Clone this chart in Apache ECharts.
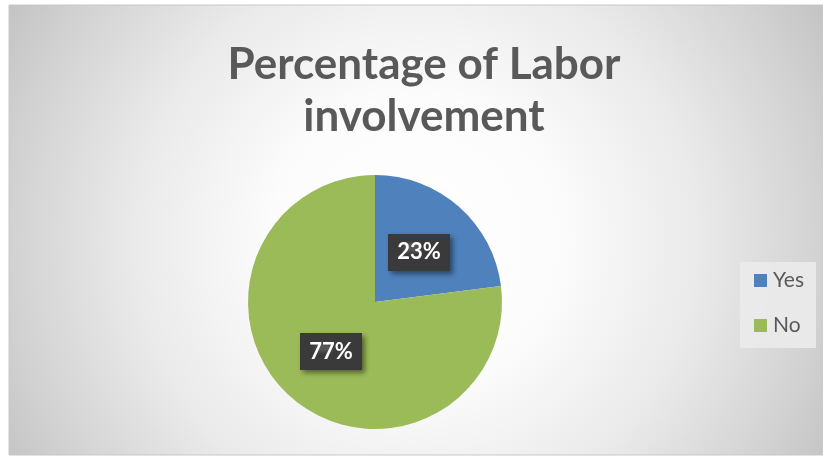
<!DOCTYPE html>
<html><head><meta charset="utf-8">
<script src="https://cdn.jsdelivr.net/npm/echarts@6/dist/echarts.min.js"></script>
<style>html,body{margin:0;padding:0;background:#fff}#c{width:823px;height:457px}</style>
</head><body><div id="c"></div>
<script>
const categories = ['Yes', 'No'];
const values = [23, 77];
const colors = ['#4f81bd', '#9bbb59'];
const titleText = 'Percentage of Labor\ninvolvement';

// dotted dark pattern for label boxes
const pat = document.createElement('canvas');
pat.width = 8; pat.height = 8;
const pc = pat.getContext('2d');
pc.fillStyle = '#3a3a3a'; pc.fillRect(0,0,8,8);
pc.fillStyle = '#555555'; pc.fillRect(2,2,2,2);

const chart = echarts.init(document.getElementById('c'), null, {renderer:'canvas'});
chart.setOption({
  animation: false,
  graphic: [{
    type: 'rect', z: -10, silent: true,
    shape: {x: 9, y: 5, width: 814, height: 450},
    style: {
      fill: new echarts.graphic.RadialGradient(416, 240, 470, [
        {offset: 0, color: '#ffffff'},
        {offset: 0.3, color: '#fcfcfc'},
        {offset: 0.6, color: '#eaeaea'},
        {offset: 0.86, color: '#d2d2d2'},
        {offset: 1, color: '#c3c3c3'}
      ], true),
      stroke: '#c8c8c8', lineWidth: 1
    }
  }],
  title: {
    text: titleText, left: 419, top: 34, textAlign: 'center',
    textStyle: {fontFamily: 'Lato', fontWeight: 'bold', fontSize: 44, color: '#595959', lineHeight: 52}
  },
  legend: {
    orient: 'vertical', left: 740, top: 262,
    padding: [8, 12, 12, 14],
    backgroundColor: 'rgba(234,234,234,0.95)',
    itemWidth: 13, itemHeight: 13, itemGap: 24, icon: 'rect',
    textStyle: {fontFamily: 'Lato', fontSize: 21, color: '#595959', padding: [0,0,0,1]},
    data: categories
  },
  series: [{
    type: 'pie', center: [375, 302], radius: 127,
    startAngle: 90, clockwise: true,
    itemStyle: {borderWidth: 0},
    label: {
      position: 'inside', formatter: '{d}%',
      fontFamily: 'Lato', fontWeight: 'bold', fontSize: 22, color: '#ffffff',
      backgroundColor: {image: pat, repeat: 'repeat'},
      padding: [8, 9, 7, 9],
      shadowColor: 'rgba(0,0,0,0.45)', shadowBlur: 5, shadowOffsetX: 3, shadowOffsetY: 3
    },
    labelLine: {show: false},
    data: categories.map((c, i) => ({name: c, value: values[i], itemStyle: {color: colors[i]}}))
  }]
});
</script></body></html>
